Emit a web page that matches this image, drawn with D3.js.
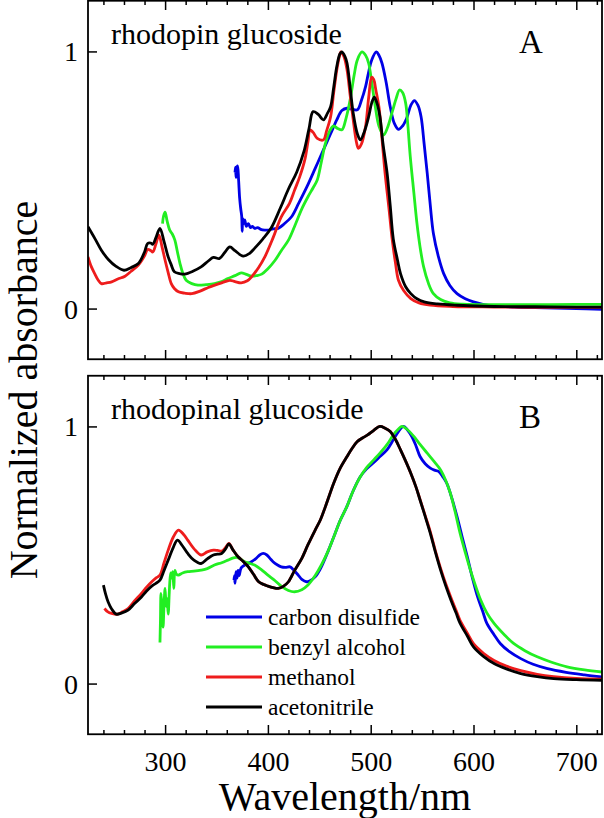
<!DOCTYPE html>
<html>
<head>
<meta charset="utf-8">
<script src="https://cdn.jsdelivr.net/npm/d3@7"></script>
<style>
  body { margin: 0; background: #fff; }
  svg { display: block; font-family: "Liberation Serif", "Times New Roman", serif; }
</style>
</head>
<body>
<div id="chart"></div>
<script>
// solvents, in legend order
var solvents = ["carbon disulfide", "benzyl alcohol", "methanol", "acetonitrile"];
var solventColors = ["#0000e6", "#22ee22", "#ee1c1c", "#000000"];
var xTicksMajor = [300, 400, 500, 600, 700];
var yTicks = [0, 1];
var panelTitles = ["rhodopin glucoside", "rhodopinal glucoside"];
var panelLetters = ["A", "B"];

// panel A: rhodopin glucoside, [wavelength nm, normalized absorbance]
var rhodopinCS2 = [[368,0.53],[368.5,0.55],[369,0.51],[369.5,0.545],[370.5,0.555],[371.5,0.50],[372.5,0.43],[373.5,0.39],[374.5,0.36],[375,0.30],[375.5,0.35],[376.5,0.33],[377.5,0.345],[379,0.32],[381,0.33],[383,0.315],[385,0.32],[387,0.312],[390,0.315],[393,0.308],[397,0.305],[400,0.305],[405,0.31],[410,0.312],[416,0.33],[423,0.357],[430,0.41],[438,0.474],[446,0.545],[454,0.617],[461,0.68],[467,0.734],[472,0.77],[477,0.779],[482,0.775],[487,0.773],[491,0.81],[495,0.863],[498,0.92],[501,0.967],[505.5,0.998],[508,0.985],[511,0.954],[515,0.88],[519,0.785],[523,0.72],[527,0.697],[531,0.71],[535,0.74],[539,0.79],[542.5,0.809],[546,0.79],[549,0.746],[552,0.64],[555,0.526],[558,0.40],[561,0.292],[566,0.2],[571,0.136],[577,0.09],[584,0.058],[592,0.038],[600,0.026],[615,0.012],[640,0.006],[670,0.003],[700,0.0],[725,-0.003]];
var rhodopinBenzyl = [[297.5,0.33],[298.5,0.36],[300,0.375],[302,0.34],[304.5,0.305],[307,0.29],[309.5,0.266],[312,0.22],[314.5,0.175],[317,0.14],[320.5,0.11],[326,0.097],[332,0.091],[340,0.093],[348,0.097],[355,0.105],[361,0.117],[368,0.128],[374,0.139],[379,0.133],[384,0.126],[389,0.128],[394,0.134],[400,0.155],[407,0.188],[413,0.225],[420,0.266],[427,0.33],[433,0.388],[439,0.435],[444,0.47],[448,0.5],[452,0.57],[456,0.643],[460,0.69],[464,0.71],[468,0.70],[472,0.695],[476,0.74],[480,0.812],[484,0.91],[487,0.967],[491.5,0.998],[495,0.985],[498,0.954],[501,0.88],[504.5,0.785],[508,0.71],[512.5,0.675],[516,0.70],[521,0.766],[525,0.82],[528,0.85],[531,0.84],[534,0.799],[536,0.72],[538.5,0.591],[542,0.45],[545,0.331],[548,0.24],[551.5,0.162],[556,0.1],[561,0.058],[568,0.035],[577,0.022],[590,0.017],[620,0.015],[660,0.015],[700,0.016],[725,0.016]];
var rhodopinMethanol = [[225,0.201],[228,0.165],[231.5,0.136],[235,0.11],[238,0.097],[243,0.1],[248,0.104],[254,0.115],[261,0.126],[267,0.145],[274,0.169],[280,0.205],[283,0.23],[286,0.226],[288,0.22],[291,0.25],[294,0.286],[297,0.24],[300,0.188],[303,0.14],[306,0.097],[309,0.078],[313,0.065],[319,0.06],[326,0.058],[334,0.068],[342,0.082],[349,0.092],[355,0.10],[363,0.11],[368,0.105],[374,0.1],[380,0.108],[384,0.123],[391,0.16],[397,0.201],[405,0.275],[413,0.357],[421,0.409],[426,0.461],[431,0.513],[436,0.58],[439,0.65],[441,0.695],[444,0.685],[448,0.662],[454,0.656],[457,0.69],[461,0.746],[464,0.84],[467,0.928],[469.5,0.98],[471,0.998],[474,0.98],[477,0.928],[480,0.83],[483,0.734],[486,0.65],[488,0.623],[491,0.64],[495,0.708],[498,0.82],[501,0.9],[503,0.89],[505,0.85],[508,0.785],[511,0.66],[514,0.526],[518,0.38],[521,0.266],[524,0.18],[527,0.11],[532,0.07],[539,0.039],[547,0.022],[558,0.013],[580,0.008],[620,0.006],[660,0.005],[700,0.005],[725,0.005]];
var rhodopinAcetonitrile = [[225,0.318],[232,0.27],[238,0.227],[245,0.19],[252,0.165],[260,0.149],[267,0.16],[274,0.175],[280,0.22],[283,0.253],[286,0.255],[288,0.25],[291,0.275],[295,0.312],[299,0.26],[303,0.201],[306,0.17],[309,0.143],[314,0.136],[319,0.134],[327,0.145],[335,0.162],[342,0.185],[347,0.199],[353,0.195],[358,0.218],[363,0.24],[368,0.225],[376,0.204],[382,0.214],[387,0.234],[395,0.27],[403,0.312],[412,0.39],[420,0.465],[428,0.53],[435,0.61],[440,0.70],[444,0.766],[449,0.755],[454,0.734],[458,0.76],[461,0.785],[464,0.86],[467,0.941],[470,0.99],[472,0.998],[475,0.98],[477,0.954],[480,0.86],[483,0.76],[487,0.68],[490,0.656],[494,0.69],[498,0.746],[501,0.8],[503.5,0.822],[506,0.8],[509,0.746],[512,0.64],[516,0.526],[519,0.4],[522,0.27],[526,0.19],[529,0.136],[534,0.085],[539,0.058],[545,0.038],[552,0.026],[565,0.018],[584,0.013],[620,0.008],[660,0.007],[700,0.006],[725,0.006]];

// panel B: rhodopinal glucoside
var rhodopinalCS2 = [[367,0.402],[367.5,0.42],[368,0.39],[369,0.435],[370,0.41],[371,0.44],[372,0.42],[374,0.45],[377.5,0.461],[381,0.468],[384,0.474],[388,0.485],[392,0.5],[395.5,0.506],[399,0.5],[402,0.487],[405,0.474],[409,0.462],[413,0.454],[417,0.452],[421.5,0.454],[425,0.442],[429.5,0.422],[433,0.405],[437.5,0.396],[441,0.4],[446,0.415],[449,0.432],[452,0.454],[459,0.519],[465,0.58],[470.5,0.636],[477,0.69],[483,0.75],[490,0.805],[496,0.835],[503,0.86],[509,0.883],[516,0.91],[522,0.948],[527,0.98],[532,1.0],[536,0.985],[540,0.961],[544,0.925],[548,0.883],[553,0.855],[558,0.838],[562,0.83],[566,0.825],[570,0.805],[574,0.779],[579,0.72],[584,0.649],[589,0.57],[594,0.493],[599,0.41],[604,0.337],[609,0.28],[613,0.234],[620,0.19],[626,0.156],[635,0.124],[646,0.097],[658,0.075],[672,0.058],[690,0.044],[708,0.034],[725,0.026]];
var rhodopinalBenzyl = [[295,0.16],[295.5,0.25],[296,0.351],[297,0.30],[298,0.22],[299,0.31],[300,0.37],[301,0.30],[302,0.33],[303,0.27],[304,0.35],[304.5,0.39],[305.5,0.43],[306.5,0.41],[307.5,0.435],[308.5,0.37],[309.5,0.44],[311,0.425],[313,0.422],[317,0.43],[322,0.435],[328,0.437],[335,0.441],[341,0.447],[348,0.461],[355,0.47],[361,0.48],[365,0.487],[369.5,0.491],[373,0.485],[377.5,0.474],[382,0.468],[387,0.461],[393,0.445],[400,0.422],[407,0.4],[413,0.379],[420,0.362],[426,0.357],[433,0.365],[439,0.383],[446,0.42],[452,0.461],[459,0.519],[465,0.58],[470.5,0.636],[477,0.69],[483,0.75],[490,0.805],[496,0.84],[503,0.87],[509,0.896],[516,0.93],[522,0.967],[527,0.99],[530.5,1.0],[535,0.99],[542,0.961],[548,0.93],[555,0.896],[562,0.862],[568,0.831],[573,0.79],[577.5,0.74],[582,0.67],[587,0.584],[592,0.51],[597,0.441],[602,0.38],[607,0.325],[613,0.275],[620,0.234],[630,0.19],[639,0.156],[650,0.128],[662,0.104],[676,0.083],[691,0.065],[708,0.053],[725,0.045]];
var rhodopinalMethanol = [[241,0.292],[244,0.28],[248,0.273],[254,0.27],[259,0.28],[264,0.292],[270,0.32],[277,0.351],[282,0.375],[287,0.396],[291,0.41],[295,0.422],[299,0.47],[303,0.519],[308,0.57],[313,0.597],[318,0.58],[322,0.558],[328,0.525],[335,0.5],[341,0.512],[347,0.519],[351,0.518],[355,0.515],[359,0.53],[362,0.545],[366,0.52],[371,0.493],[376,0.475],[381,0.454],[386,0.425],[391,0.396],[396,0.385],[400,0.379],[405,0.373],[410,0.37],[415,0.378],[420,0.396],[426,0.44],[433,0.487],[439,0.54],[446,0.597],[451,0.636],[457,0.7],[464,0.779],[470,0.835],[477,0.883],[482,0.915],[487,0.941],[492,0.955],[497,0.967],[503,0.985],[509,1.0],[514,0.993],[519,0.98],[524,0.95],[529,0.909],[534,0.865],[539,0.818],[544,0.765],[548,0.716],[553,0.653],[558,0.59],[563,0.515],[568,0.448],[573,0.388],[578,0.335],[583,0.285],[587,0.245],[594,0.196],[600,0.155],[610,0.117],[620,0.09],[632,0.068],[646,0.05],[662,0.036],[678,0.027],[700,0.02],[725,0.017]];
var rhodopinalAcetonitrile = [[240,0.383],[242,0.35],[244.5,0.318],[248,0.29],[252.5,0.27],[258,0.275],[264,0.286],[270,0.31],[277,0.337],[282,0.36],[287,0.379],[291,0.39],[295,0.402],[299,0.44],[303,0.48],[308,0.53],[312,0.558],[317,0.535],[322,0.506],[328,0.48],[335,0.467],[341,0.485],[347,0.5],[351,0.503],[355,0.506],[359,0.525],[362,0.543],[366,0.52],[371,0.493],[376,0.475],[381,0.454],[386,0.425],[391,0.396],[396,0.385],[400,0.379],[405,0.373],[410,0.37],[415,0.378],[420,0.396],[426,0.44],[433,0.487],[439,0.54],[446,0.597],[451,0.636],[457,0.7],[464,0.779],[470,0.835],[477,0.883],[482,0.915],[487,0.941],[492,0.955],[497,0.967],[503,0.985],[509,1.0],[514,0.993],[519,0.98],[524,0.95],[529,0.909],[534,0.865],[539,0.818],[544,0.765],[548,0.714],[553,0.65],[558,0.584],[563,0.51],[568,0.441],[573,0.38],[578,0.325],[583,0.275],[587,0.234],[594,0.185],[600,0.143],[610,0.105],[620,0.078],[632,0.057],[646,0.039],[662,0.027],[678,0.019],[700,0.015],[725,0.013]];

var panelSeries = [
    [rhodopinCS2, rhodopinBenzyl, rhodopinMethanol, rhodopinAcetonitrile],
    [rhodopinalCS2, rhodopinalBenzyl, rhodopinalMethanol, rhodopinalAcetonitrile]
];

var width = 604, height = 818;
var left = 88, right = 602;
var panelTops = [0, 375], panelH = 360;

var svg = d3.select("#chart").append("svg")
    .attr("width", width)
    .attr("height", height);

svg.append("rect").attr("width", width).attr("height", height).attr("fill", "#fff");

var x = d3.scaleLinear().domain([225, 725]).range([left, right]);
var minorTicks = d3.range(240, 725, 20).filter(function(d) { return d % 100 !== 0; });

panelSeries.forEach(function(series, p) {
    var top = panelTops[p];
    var y = d3.scaleLinear().domain([-0.2, 1.2]).range([top + panelH, top]);

    var clipId = "clip" + p;
    svg.append("clipPath").attr("id", clipId)
        .append("rect")
        .attr("x", left).attr("y", top)
        .attr("width", right - left).attr("height", panelH);

    var line = d3.line()
        .x(function(d) { return x(d[0]); })
        .y(function(d) { return y(d[1]); })
        .curve(d3.curveCatmullRom.alpha(0.5));

    var g = svg.append("g").attr("clip-path", "url(#" + clipId + ")");
    series.forEach(function(s, i) {
        g.append("path")
            .datum(s)
            .attr("fill", "none")
            .attr("stroke", solventColors[i])
            .attr("stroke-width", 2.8)
            .attr("stroke-linejoin", "round")
            .attr("d", line);
    });

    // bottom axis, ticks pointing in
    var bottom = svg.append("g").attr("transform", "translate(0," + (top + panelH) + ")");
    bottom.call(d3.axisBottom(x).tickValues(xTicksMajor).tickSize(-10).tickPadding(16)
        .tickFormat(p === 1 ? d3.format("d") : function() { return ""; }));
    bottom.append("g").call(d3.axisBottom(x).tickValues(minorTicks).tickSize(-5).tickFormat(""));

    var topAxis = svg.append("g").attr("transform", "translate(0," + top + ")");
    topAxis.call(d3.axisTop(x).tickValues(xTicksMajor).tickSize(-10).tickFormat(""));
    topAxis.append("g").call(d3.axisTop(x).tickValues(minorTicks).tickSize(-5).tickFormat(""));

    var leftAxis = svg.append("g").attr("transform", "translate(" + left + ",0)");
    leftAxis.call(d3.axisLeft(y).tickValues(yTicks).tickSize(-9).tickPadding(10).tickFormat(d3.format("d")));

    svg.selectAll(".domain").remove();
    svg.selectAll(".tick line").attr("stroke", "#000").attr("stroke-width", 1.5);
    svg.selectAll(".tick text")
        .attr("font-family", "Liberation Serif, Times New Roman, serif")
        .attr("font-size", 28)
        .attr("fill", "#000");
    leftAxis.selectAll(".tick text").attr("dy", "0.34em");
    bottom.selectAll(".tick text").attr("dy", "0.71em");

    // frame
    svg.append("rect")
        .attr("x", left).attr("y", top + 0.75)
        .attr("width", right - left).attr("height", panelH - 1.5)
        .attr("fill", "none").attr("stroke", "#000").attr("stroke-width", 1.8);

    svg.append("text")
        .attr("x", 111).attr("y", top + 44)
        .attr("font-size", 30)
        .text(panelTitles[p]);

    svg.append("text")
        .attr("x", 519).attr("y", top + 53)
        .attr("font-size", 33)
        .text(panelLetters[p]);
});

// legend in panel B
var legend = svg.append("g");
solvents.forEach(function(name, i) {
    var ly = 617 + i * 30;
    legend.append("line")
        .attr("x1", 206).attr("x2", 262)
        .attr("y1", ly).attr("y2", ly)
        .attr("stroke", solventColors[i]).attr("stroke-width", 3);
    legend.append("text")
        .attr("x", 268).attr("y", ly + 8)
        .attr("font-size", 23.5)
        .text(name);
});

svg.append("text")
    .attr("x", (left + right) / 2).attr("y", 810)
    .attr("text-anchor", "middle")
    .attr("font-size", 40)
    .text("Wavelength/nm");

svg.append("text")
    .attr("transform", "translate(37,390) rotate(-90)")
    .attr("text-anchor", "middle")
    .attr("font-size", 40)
    .text("Normalized absorbance");
</script>
</body>
</html>
